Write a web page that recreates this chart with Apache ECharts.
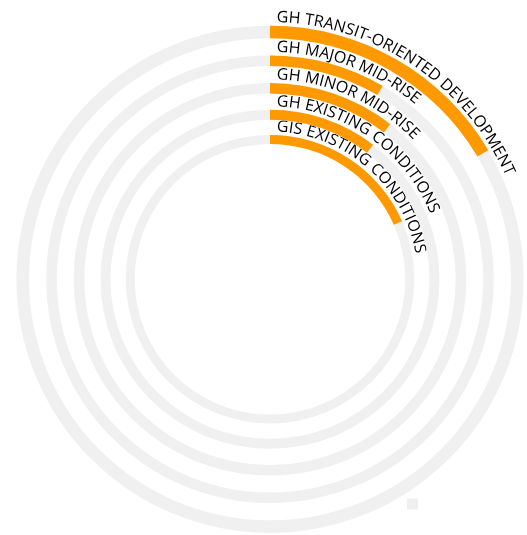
<!DOCTYPE html>
<html><head><meta charset="utf-8">
<script src="https://cdn.jsdelivr.net/npm/echarts@6/dist/echarts.min.js"></script>
<style>html,body{margin:0;padding:0;background:#fff}#c{width:527px;height:535px}</style>
</head><body><div id="c"></div>
<script>
// ---- data ----
const categories = ['GH TRANSIT-ORIENTED DEVELOPMENT', 'GH MAJOR MID-RISE', 'GH MINOR MID-RISE', 'GH EXISTING CONDITIONS', 'GIS EXISTING CONDITIONS'];
const values = [16.5, 8.4, 10.5, 10.4, 18.4];
const maxValue = 100;

// ---- geometry / style ----
const CX = 270, CY = 279.3;
const rings = [[241, 253.6], [213.2, 223.8], [185.7, 196.3], [159.5, 169.5], [135.3, 144.3]];
const FONT_SIZE = 16, FONT_FAMILY = '"Open Sans", "Liberation Sans", sans-serif';
const LABEL_GAP = 2.5, START_GAP = 6.5;
const ORANGE = '#ff9900', GRAY = '#f0f0f0', TEXT = '#000000';

const chart = echarts.init(document.getElementById('c'), null, {renderer: 'canvas'});

const ctx = document.createElement('canvas').getContext('2d');
ctx.font = FONT_SIZE + 'px ' + FONT_FAMILY;

const graphics = [];
categories.forEach((label, i) => {
  const rb = rings[i][1] + LABEL_GAP;
  const rt = rb + 0.36 * FONT_SIZE;
  let cum = START_GAP;
  for (const ch of label) {
    const w = ctx.measureText(ch).width;
    const th = (cum + w / 2) / rb;
    cum += w;
    if (ch === ' ') continue;
    graphics.push({
      type: 'text',
      x: CX + rt * Math.sin(th),
      y: CY - rt * Math.cos(th),
      rotation: -th,
      silent: true,
      style: {
        text: ch, x: 0, y: 0,
        fill: TEXT,
        font: FONT_SIZE + 'px ' + FONT_FAMILY,
        align: 'center', verticalAlign: 'middle',
        textAlign: 'center', textVerticalAlign: 'middle'
      }
    });
  }
});
graphics.push({type: 'rect', shape: {x: 407, y: 498.5, width: 11, height: 11}, style: {fill: GRAY}, silent: true});

chart.setOption({
  animation: false,
  polar: rings.map(r => ({center: [CX, CY], radius: [r[0], r[1]]})),
  angleAxis: rings.map((_, i) => ({polarIndex: i, type: 'value', min: 0, max: maxValue, startAngle: 90, clockwise: true, show: false})),
  radiusAxis: rings.map((_, i) => ({polarIndex: i, type: 'category', data: [categories[i]], show: false})),
  series: rings.map((_, i) => ({
    type: 'bar', coordinateSystem: 'polar', polarIndex: i,
    name: categories[i],
    data: [values[i]],
    barWidth: '100%',
    showBackground: true,
    backgroundStyle: {color: GRAY},
    itemStyle: {color: ORANGE},
    silent: true
  })),
  graphic: graphics
});
</script>
</body></html>
